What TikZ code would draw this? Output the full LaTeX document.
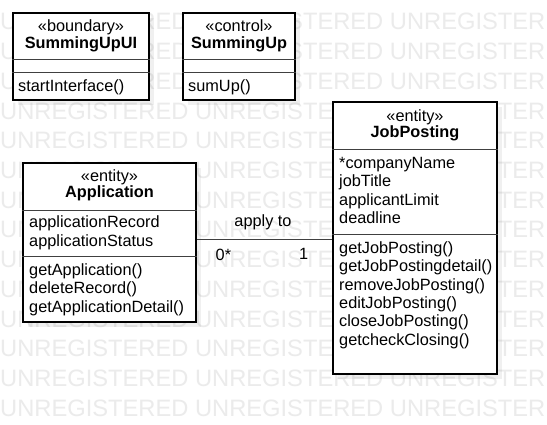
\documentclass[tikz,border=0pt]{standalone}
\usepackage{fontspec}
\setmainfont{Liberation Sans}
\usetikzlibrary{calc, shadows}

\newcommand\umlfont{\fontsize{16.3}{18.4}\selectfont}
\newcommand\wmfont{\fontsize{23.7}{24}\selectfont}
\definecolor{wmgray}{gray}{0.92}
\definecolor{linegray}{gray}{0.25}

\tikzset{
    classbox/.style={draw=black, line width=1.1pt, fill=white, rectangle, inner sep=0pt,
        drop shadow={shadow xshift=5pt, shadow yshift=-5pt, fill=black, opacity=0.06}},
    divider/.style={draw=linegray, line width=1.1pt},
    assocline/.style={draw=linegray, line width=1pt},
    stereo/.style={anchor=base, inner sep=0pt, font=\umlfont},
    classname/.style={anchor=base, inner sep=0pt, font=\umlfont\bfseries},
    member/.style={anchor=base west, inner sep=0pt, font=\umlfont},
    watermark/.style={anchor=base west, inner sep=0pt, text=wmgray, font=\wmfont}
}

\begin{document}
\begin{tikzpicture}[x=1pt, y=-1pt]
    \def\gap{18.4}

    \useasboundingbox (0, 0) rectangle (547, 425);
    \clip (0, 0) rectangle (547, 425);
    \fill[white] (0, 0) rectangle (547, 425);

    % background stamp
    \foreach \r in {0,...,13}
        \node[watermark] (wm\r) at (0, 30 + 29.7 * \r) {UNREGISTERED UNREGISTERED UNREGISTERED};

    % SummingUpUI
    \node[classbox, minimum width=136, minimum height=87] (ui) at (81, 56.5) {};
    \draw[divider] ($(ui.north west)+(0, 47)$) -- ($(ui.north east)+(0, 47)$);
    \draw[divider] ($(ui.north west)+(0, 60)$) -- ($(ui.north east)+(0, 60)$);
    \node[stereo] (uistereo) at (81, 32) {«boundary»};
    \node[classname] (uiname) at (81, 48.5) {SummingUpUI};
    \node[member] (uiop) at (18, 91.5) {startInterface()};

    % SummingUp
    \node[classbox, minimum width=112, minimum height=87] (sum) at (239, 56.5) {};
    \draw[divider] ($(sum.north west)+(0, 47)$) -- ($(sum.north east)+(0, 47)$);
    \draw[divider] ($(sum.north west)+(0, 60)$) -- ($(sum.north east)+(0, 60)$);
    \node[stereo] (sumstereo) at (239, 32) {«control»};
    \node[classname] (sumname) at (239, 48.5) {SummingUp};
    \node[member] (sumop) at (188, 91.5) {sumUp()};

    % Application
    \node[classbox, minimum width=173, minimum height=159] (app) at (109.5, 242.5) {};
    \draw[divider] ($(app.north west)+(0, 48)$) -- ($(app.north east)+(0, 48)$);
    \draw[divider] ($(app.north west)+(0, 94)$) -- ($(app.north east)+(0, 94)$);
    \node[stereo] (appstereo) at (109.5, 182) {«entity»};
    \node[classname] (appname) at (109.5, 198) {Application};
    \foreach \txt [count=\i from 0] in {applicationRecord, applicationStatus}
        \node[member] (appattr\i) at (29, 228 + \gap * \i) {\txt};
    \foreach \txt [count=\i from 0] in {getApplication(), deleteRecord(), getApplicationDetail()}
        \node[member] (appop\i) at (29, 275.3 + \gap * \i) {\txt};

    % JobPosting
    \node[classbox, minimum width=164, minimum height=272] (job) at (415, 238) {};
    \draw[divider] ($(job.north west)+(0, 48)$) -- ($(job.north east)+(0, 48)$);
    \draw[divider] ($(job.north west)+(0, 133)$) -- ($(job.north east)+(0, 133)$);
    \node[stereo] (jobstereo) at (415, 121.5) {«entity»};
    \node[classname] (jobname) at (415, 138) {JobPosting};
    \foreach \txt [count=\i from 0] in {*companyName, jobTitle, applicantLimit, deadline}
        \node[member] (jobattr\i) at (339, 168.3 + \gap * \i) {\txt};
    \foreach \txt [count=\i from 0] in {getJobPosting(), getJobPostingdetail(), removeJobPosting(),
            editJobPosting(), closeJobPosting(), getcheckClosing()}
        \node[member] (jobop\i) at (339, 253.3 + \gap * \i) {\txt};

    % association
    \coordinate (assoc) at (0, 240);
    \draw[assocline] (app.east |- assoc) -- (job.west |- assoc);
    \node[stereo] (applyto) at (263, 226.7) {apply to};
    \node[member] (multapp) at (215.5, 260.8) {0*};
    \node[member] (multjob) at (299, 259.6) {1};
\end{tikzpicture}
\end{document}
